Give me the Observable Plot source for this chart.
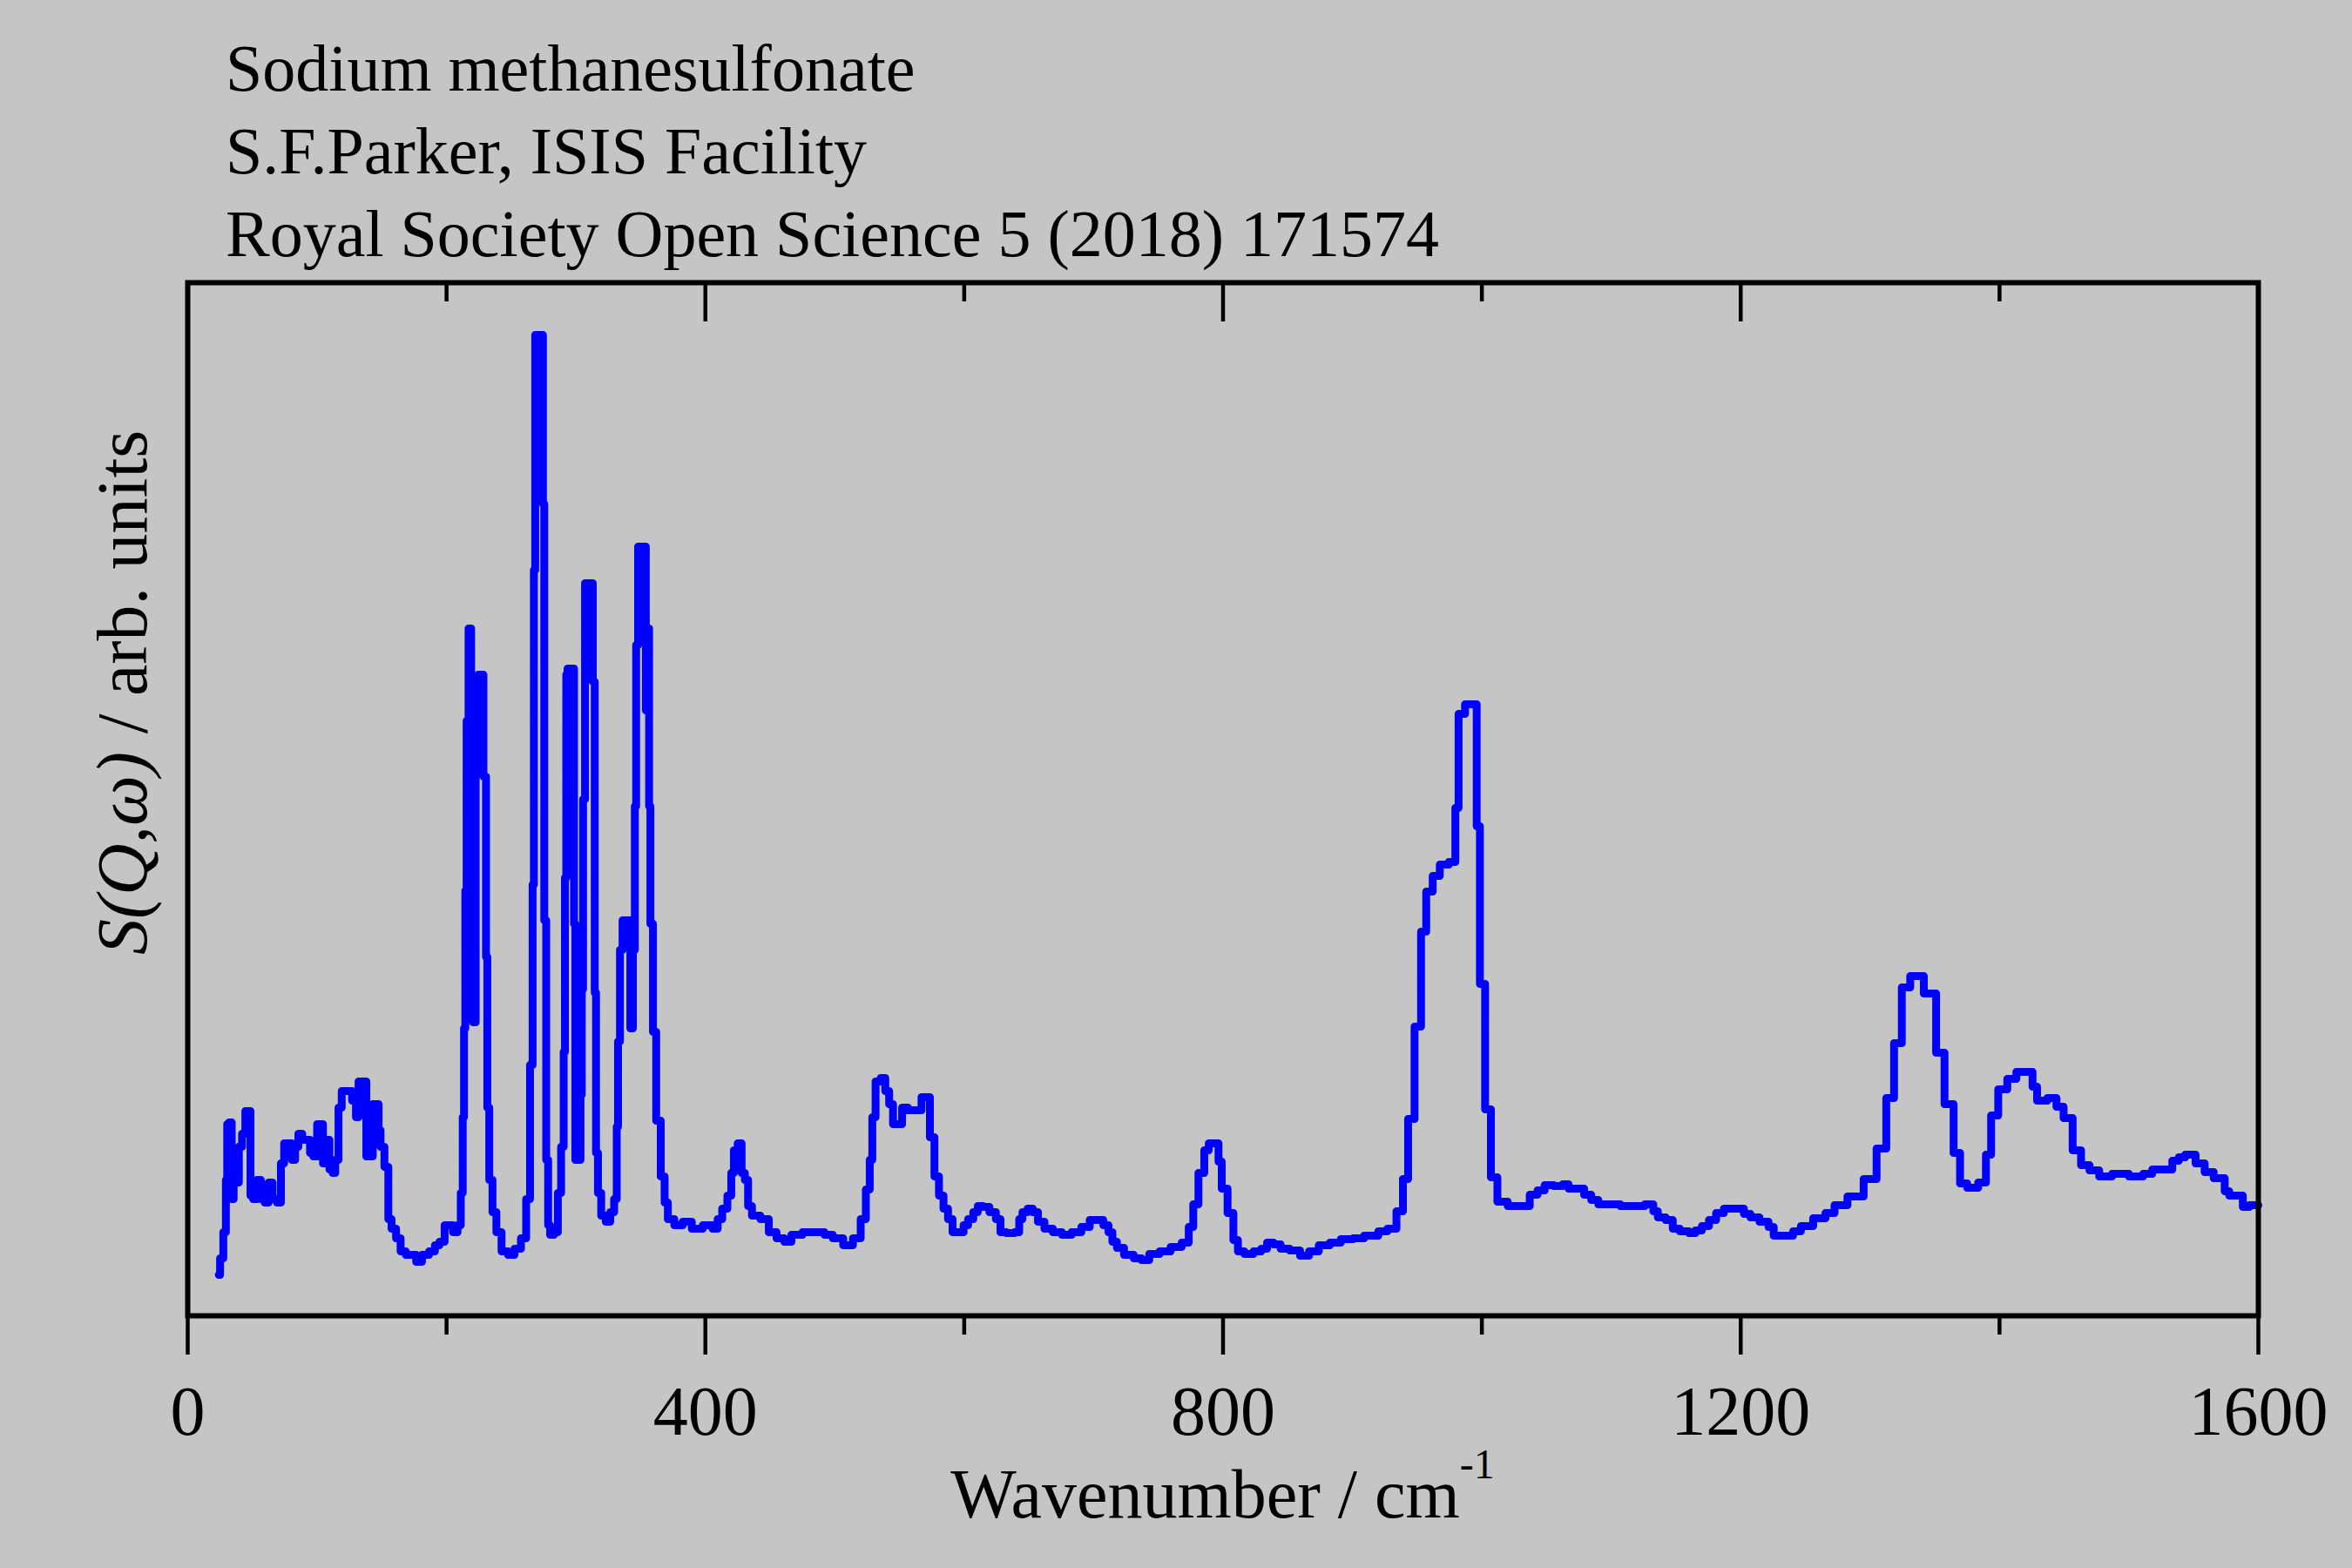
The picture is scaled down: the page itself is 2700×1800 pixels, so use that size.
<!DOCTYPE html>
<html><head><meta charset="utf-8">
<script src="https://cdn.jsdelivr.net/npm/d3@7"></script>
<script src="https://cdn.jsdelivr.net/npm/@observablehq/plot@0.6"></script>
<style>
html,body{margin:0;padding:0;background:#c5c5c5;}
#wrap{position:relative;width:2700px;height:1800px;background:#c5c5c5;font-family:"Liberation Serif","Times New Roman",serif;color:#000;overflow:hidden;}
#titles{position:absolute;left:259px;top:31px;font-size:76px;line-height:95px;white-space:nowrap;z-index:2;}
#chart{position:absolute;left:0;top:300px;z-index:1;}
</style></head><body>
<div id="wrap"><div id="titles"></div><div id="chart"></div></div>
<script>
const titleLines = [
  "Sodium methanesulfonate",
  "S.F.Parker, ISIS Facility",
  "Royal Society Open Science 5 (2018) 171574"
];
const xLabelMain = "Wavenumber / cm";
const xLabelSup = "-1";
const yLabelItalic = "S(Q,\u03C9)";
const yLabelRest = " / arb. units";
const majorTicks = [0, 400, 800, 1200, 1600];
const minorTicks = [200, 600, 1000, 1400];

// wavenumber (cm-1)
const wavenumber = [
24,26,29,30,31,33,35,36,38,41,43,46,48,49,52,55,58,61,64,67,71,73,76,79,82,84,87,90,94,95,99,101,103,106,108,111,113,115,118,120,125,129,131,133,137,139,142,144,147,148,150,154,156,159,163,166,171,174,179,183,190,192,197,200,203,207,210,212,213,214,215,216,218,220,221,224,225,227,230,231,232,234,237,240,245,250,255,260,263,266,267,268,269,274,275,276,278,279,281,285,287,290,291,292,293,294,298,299,300,303,304,305,306,308,312,314,315,316,318,321,325,328,331,332,333,335,337,341,343,345,346,347,349,353,355,356,357,358,361,363,
368,369,373,379,386,393,403,408,411,415,419,421,423,427,429,432,434,438,447,451,459,463,470,480,490,494,503,510,518,522,526,528,530,533,538,540,544,546,550,554,559,565,569,572,575,579,582,586,589,593,598,601,605,609,612,617,622,627,629,636,642,643,647,651,655,659,665,672,679,687,694,700,705,710,713,716,720,727,735,
739,747,755,764,772,775,779,783,788,790,796,797,801,806,810,813,820,827,832,836,842,847,856,863,870,878,887,895,906,912,917,923,931,937,941,945,951,955,959,965,970,979,980,984,990,995,997,1000,1005,1009,1015,1025,1034,1040,1046,1051,1060,1065,1069,1076,1082,1087,1093,1104,1110,1121,1131,1134,1138,1146,1149,1157,1163,
1167,1173,1178,1184,1190,1201,1204,1211,1218,1225,1226,1238,1243,1250,1262,1269,1276,1289,1301,1309,1316,1321,1328,1334,1341,1342,1348,1354,1361,1368,1371,1379,1388,1391,1396,1402,1410,1416,1425,1426,1432,1442,1446,1453,1460,1466,1473,1481,1493,1507,1515,1521,1532,1535,1542,1545,1551,1552,1558,1559,1565,1566,1573,1575,1580,1587,1589,1597,1600
];
// S(Q,w), arbitrary units
const intensity = [
47,66,96,156,220,222,134,171,153,194,209,235,235,138,134,156,134,130,153,134,130,175,198,198,179,194,209,202,202,187,183,220,220,175,202,168,164,179,239,258,258,247,228,269,269,183,183,243,243,213,194,171,111,100,89,74,70,70,62,70,74,81,85,104,104,96,104,141,228,330,488,683,789,371,337,721,736,736,619,412,239,156,119,96,74,70,77,89,134,288,495,856,1126,1126,932,454,179,104,93,96,141,194,303,503,736,743,743,450,179,179,254,375,593,841,841,728,371,187,141,115,108,119,134,217,315,420,454,454,330,420,585,770,883,883,695,789,585,450,326,224,
160,130,111,104,108,100,104,100,111,123,138,164,190,198,164,156,126,115,111,96,89,85,93,96,96,93,89,81,89,111,145,179,228,269,273,258,243,220,220,239,236,236,251,251,205,160,138,123,111,96,96,104,111,119,126,125,119,111,96,95,96,111,119,123,119,108,100,96,93,96,102,110,110,104,96,85,78,70,66,
64,71,74,79,84,102,128,164,190,198,198,177,146,118,87,74,71,74,77,84,82,77,75,69,74,81,84,88,89,92,92,97,100,120,157,226,332,441,487,505,518,521,583,691,702,702,562,381,237,159,131,126,126,139,144,150,149,151,146,146,139,133,128,128,126,126,128,120,113,110,100,97,95,
98,103,110,118,123,123,117,113,108,102,92,92,97,103,112,118,127,137,157,192,250,313,377,390,390,370,370,302,243,187,152,147,153,185,230,260,272,280,280,263,247,250,240,227,190,173,167,160,163,160,163,168,168,178,182,185,185,175,175,165,165,158,158,143,138,138,125,127,127
];

const spectrum = wavenumber.map((w, i) => ({w, s: intensity[i]}));

d3.select("#titles").selectAll("div").data(titleLines).join("div").text(d => d);

const fontFam = "'Liberation Serif','Times New Roman',serif";

const plot = Plot.plot({
  width: 2700,
  height: 1500,
  marginTop: 24,
  marginBottom: 290,
  marginLeft: 215,
  marginRight: 108,
  style: {background: "transparent", fontFamily: fontFam, fontSize: "80px", color: "black", overflow: "visible"},
  x: {domain: [0, 1600]},
  y: {domain: [0, 1186], axis: null},
  marks: [
    Plot.line(spectrum, {x: "w", y: "s", curve: "step", stroke: "#0000ff", strokeWidth: 9, strokeLinejoin: "round", strokeLinecap: "round"}),
    Plot.axisX(majorTicks, {anchor: "bottom", tickSize: 45, tickPadding: 35, strokeWidth: 4.5, label: null, tickFormat: d => String(d), fontSize: 80}),
    Plot.axisX(minorTicks, {anchor: "bottom", tickSize: 22, strokeWidth: 4.5, label: null, tickFormat: () => ""}),
    Plot.axisX(majorTicks, {anchor: "bottom", frameAnchor: "top", tickSize: 45, strokeWidth: 4.5, label: null, tickFormat: () => ""}),
    Plot.axisX(minorTicks, {anchor: "bottom", frameAnchor: "top", tickSize: 22, strokeWidth: 4.5, label: null, tickFormat: () => ""}),
    Plot.frame({stroke: "black", strokeWidth: 6})
  ]
});
document.getElementById("chart").appendChild(plot);

const svg = d3.select(plot);
const xr = plot.scale("x").range;
const xl = svg.append("text")
  .attr("x", (xr[0] + xr[1]) / 2)
  .attr("y", 1442)
  .attr("text-anchor", "middle")
  .style("font-family", fontFam)
  .style("font-size", "80px")
  .attr("fill", "black");
xl.append("tspan").text(xLabelMain);
xl.append("tspan").attr("dy", -45).style("font-size", "48px").text(xLabelSup);

const yl = svg.append("text")
  .attr("transform", "translate(168,495) rotate(-90)")
  .attr("text-anchor", "middle")
  .style("font-family", fontFam)
  .style("font-size", "82px")
  .attr("fill", "black");
yl.append("tspan").style("font-style", "italic").text(yLabelItalic);
yl.append("tspan").text(yLabelRest);
</script>
</body></html>
